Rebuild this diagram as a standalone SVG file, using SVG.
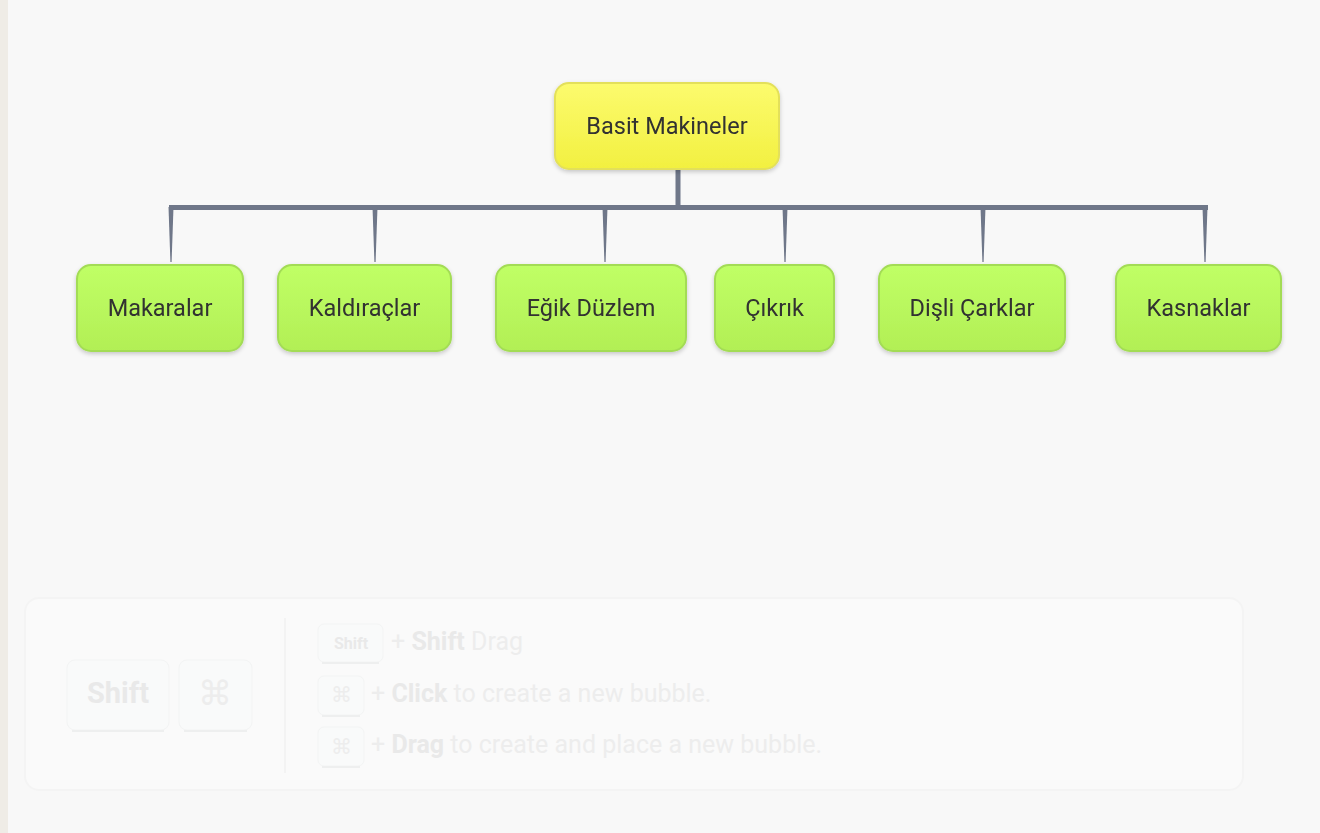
<svg xmlns="http://www.w3.org/2000/svg" width="1320" height="833" viewBox="0 0 1320 833">
<style>
.lbl{font-family:Roboto,"Liberation Sans",sans-serif;font-size:23.5px;fill:#303030;text-anchor:middle}
.y{fill:url(#gy);stroke:#e3e05a;stroke-width:2}
.g{fill:url(#gg);stroke:#a3dc55;stroke-width:2}
.conn{fill:#6f7789}
.ht{font-family:Roboto,"Liberation Sans",sans-serif;fill:#ededed}
.hb{font-weight:bold;fill:#e9e9e9}
.key{fill:#f9fafa;stroke:#f3f4f4;stroke-width:1}
.kb{fill:none;stroke:#eeefef;stroke-width:2}
</style>
<defs>
<linearGradient id="gy" x1="0" y1="0" x2="0" y2="1"><stop offset="0" stop-color="#fcfb6e"/><stop offset="1" stop-color="#f2f040"/></linearGradient>
<linearGradient id="gg" x1="0" y1="0" x2="0" y2="1"><stop offset="0" stop-color="#c0ff66"/><stop offset="1" stop-color="#b2ef55"/></linearGradient>
<filter id="sh" x="-10%" y="-10%" width="120%" height="130%"><feDropShadow dx="0" dy="2" stdDeviation="2" flood-color="#000" flood-opacity="0.2"/></filter>
</defs>
<rect width="1320" height="833" fill="#f8f8f8"/>
<rect width="8" height="833" fill="#efece6"/>
<g id="connectors">
<rect class="conn" x="675.5" y="170" width="5" height="38"/>
<rect class="conn" x="169" y="205" width="1039" height="5"/>
<polygon class="conn" points="168.5,207 173.5,207 171.6,262 170.4,262"/>
<polygon class="conn" points="372.5,207 377.5,207 375.6,262 374.4,262"/>
<polygon class="conn" points="602.5,207 607.5,207 605.6,262 604.4,262"/>
<polygon class="conn" points="782.5,207 787.5,207 785.6,262 784.4,262"/>
<polygon class="conn" points="980.5,207 985.5,207 983.6,262 982.4,262"/>
<polygon class="conn" points="1202.5,207 1207.5,207 1205.6,262 1204.4,262"/>
</g>
<g id="root" filter="url(#sh)"><rect class="y" x="555" y="83" width="224" height="86" rx="14"/><text class="lbl" x="667" y="134">Basit Makineler</text></g>
<g id="n1" filter="url(#sh)"><rect class="g" x="77" y="265" width="166" height="86" rx="14"/><text class="lbl" x="160" y="316">Makaralar</text></g>
<g id="n2" filter="url(#sh)"><rect class="g" x="278" y="265" width="173" height="86" rx="14"/><text class="lbl" x="364.5" y="316">Kaldıraçlar</text></g>
<g id="n3" filter="url(#sh)"><rect class="g" x="496" y="265" width="190" height="86" rx="14"/><text class="lbl" x="591" y="316">Eğik Düzlem</text></g>
<g id="n4" filter="url(#sh)"><rect class="g" x="715" y="265" width="119" height="86" rx="14"/><text class="lbl" x="774.5" y="316">Çıkrık</text></g>
<g id="n5" filter="url(#sh)"><rect class="g" x="879" y="265" width="186" height="86" rx="14"/><text class="lbl" x="972" y="316">Dişli Çarklar</text></g>
<g id="n6" filter="url(#sh)"><rect class="g" x="1116" y="265" width="165" height="86" rx="14"/><text class="lbl" x="1198.5" y="316">Kasnaklar</text></g>
<g id="help">
<rect x="25" y="598" width="1218" height="192" rx="14" fill="#fafafa" stroke="#f4f4f4" stroke-width="2"/>
<line x1="285" y1="618" x2="285" y2="773" stroke="#f0f0f0" stroke-width="1.5"/>
<rect class="key" x="67" y="660" width="102" height="70" rx="8"/>
<line class="kb" x1="72" y1="731" x2="164" y2="731"/>
<text class="ht hb" x="118" y="703" font-size="29" text-anchor="middle">Shift</text>
<rect class="key" x="179" y="660" width="73" height="70" rx="8"/>
<line class="kb" x1="184" y1="731" x2="247" y2="731"/>
<text class="ht" x="215" y="705" font-size="34" text-anchor="middle" font-family="DejaVu Sans,sans-serif">⌘</text>
<rect class="key" x="318" y="624" width="65" height="38" rx="6"/>
<line class="kb" x1="322" y1="663" x2="379" y2="663"/>
<text class="ht hb" x="351" y="649" font-size="16" text-anchor="middle">Shift</text>
<text class="ht" x="391" y="650" font-size="25">+ <tspan class="hb">Shift</tspan> Drag</text>
<rect class="key" x="318" y="676" width="46" height="39" rx="6"/>
<line class="kb" x1="322" y1="716" x2="360" y2="716"/>
<text class="ht" x="341" y="702" font-size="21" text-anchor="middle" font-family="DejaVu Sans,sans-serif">⌘</text>
<text class="ht" x="371" y="702" font-size="25">+ <tspan class="hb">Click</tspan> to create a new bubble.</text>
<rect class="key" x="318" y="727" width="46" height="39" rx="6"/>
<line class="kb" x1="322" y1="767" x2="360" y2="767"/>
<text class="ht" x="341" y="754" font-size="21" text-anchor="middle" font-family="DejaVu Sans,sans-serif">⌘</text>
<text class="ht" x="371" y="753" font-size="25">+ <tspan class="hb">Drag</tspan> to create and place a new bubble.</text>
</g>
</svg>
